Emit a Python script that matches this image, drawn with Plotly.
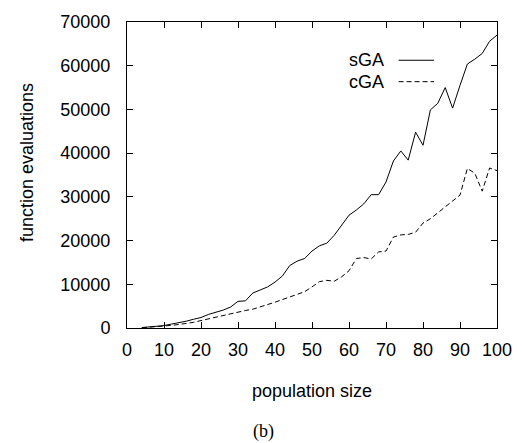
import plotly.graph_objects as go

pop_size = list(range(4, 101, 2))
sga_evals = [100, 200, 350, 550, 900, 1200, 1550, 2000, 2400, 3100,
             3600, 4100, 4800, 6100, 6200, 8000, 8700, 9400, 10500, 11900,
             14300, 15300, 15900, 17600, 18800, 19400, 21200, 23500, 25800, 27000,
             28400, 30500, 30500, 33400, 38200, 40500, 38400, 44800, 41800, 49900,
             51400, 55000, 50300, 55500, 60400, 61500, 62800, 65600, 67000]
cga_evals = [50, 150, 250, 400, 600, 800, 1000, 1300, 1700, 2100,
             2500, 2800, 3200, 3700, 4000, 4300, 4800, 5300, 5900, 6500,
             7100, 7800, 8300, 9400, 10600, 10900, 10700, 11700, 13100, 15900,
             16100, 15800, 17400, 17600, 20800, 21300, 21400, 21900, 24000, 25000,
             26300, 27700, 29000, 30400, 36500, 35400, 31300, 36600, 36000]
x_ticks = list(range(0, 101, 10))
y_ticks = list(range(0, 70001, 10000))
y_tick_labels = [str(v) for v in y_ticks]

font = "Liberation Sans, Arial, sans-serif"
fsize = 18

fig = go.Figure()
fig.add_trace(go.Scatter(x=pop_size, y=sga_evals, mode="lines", name="sGA",
                         line=dict(color="black", width=1)))
fig.add_trace(go.Scatter(x=pop_size, y=cga_evals, mode="lines", name="cGA",
                         line=dict(color="black", width=1, dash="5px,3px")))

axis_common = dict(showline=True, linecolor="black", linewidth=1, mirror="ticks",
                   ticks="inside", ticklen=6, tickcolor="black", tickwidth=1,
                   showgrid=False, zeroline=False,
                   tickfont=dict(family=font, size=fsize, color="black"))

fig.update_xaxes(range=[0, 100], tickvals=x_ticks, ticklabelstandoff=5, **axis_common)
fig.update_yaxes(range=[0, 70000], tickvals=y_ticks, ticktext=y_tick_labels,
                 ticklabelstandoff=12, **axis_common)

# legend drawn gnuplot-style: text then line sample
leg = [("sGA", None, 0.875), ("cGA", "5px,3px", 0.805)]
for name, dash, yy in leg:
    fig.add_annotation(x=0.699, y=yy, xref="paper", yref="paper", text=name,
                       showarrow=False, xanchor="right", yanchor="middle",
                       font=dict(family=font, size=fsize, color="black"))
    fig.add_shape(type="line", xref="paper", yref="paper", x0=0.734, x1=0.83,
                  y0=yy, y1=yy, line=dict(color="black", width=1, dash=dash or "solid"))

fig.add_annotation(x=-0.272, y=0.54, xref="paper", yref="paper", text="function evaluations",
                   textangle=-90, showarrow=False, xanchor="center", yanchor="middle",
                   font=dict(family=font, size=fsize, color="black"))
fig.add_annotation(x=0.5, y=-0.205, xref="paper", yref="paper", text="population size",
                   showarrow=False, xanchor="center", yanchor="middle",
                   font=dict(family=font, size=fsize, color="black"))
fig.add_annotation(x=0.37, y=-0.338, xref="paper", yref="paper", text="(b)",
                   showarrow=False, xanchor="center", yanchor="middle",
                   font=dict(family="Liberation Serif, Times New Roman, serif", size=18, color="black"))

fig.update_layout(width=524, height=443, showlegend=False,
                  margin=dict(l=127, r=22, t=17, b=115),
                  paper_bgcolor="white", plot_bgcolor="white")

fig.write_html("out.html")
